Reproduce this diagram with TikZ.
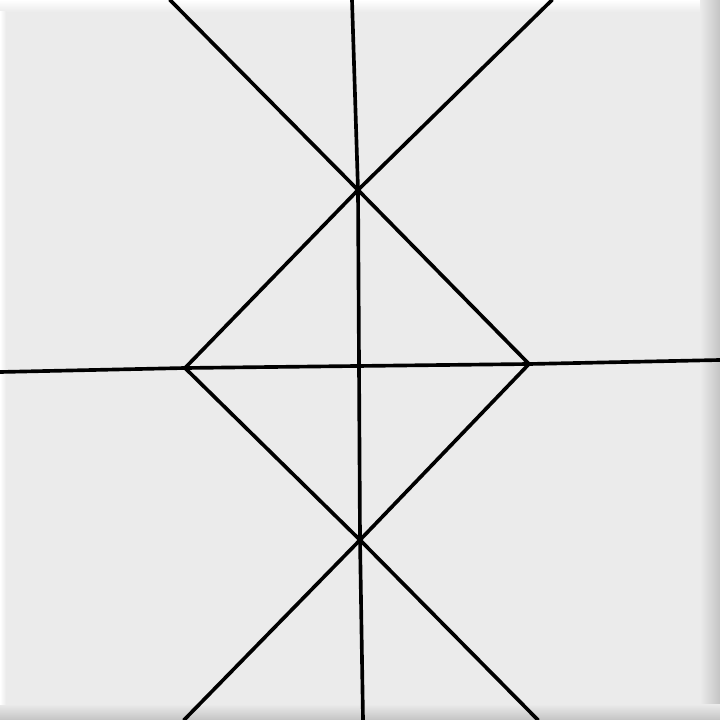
\documentclass[tikz,border=0pt]{standalone}
\usepackage{tikz}
\definecolor{tile}{HTML}{EBEBEB}
\definecolor{tileedge}{HTML}{C4C4C4}

\begin{document}
\begin{tikzpicture}[x=0.025cm,y=-0.025cm,line width=2.6pt,line cap=round,line join=round]
        % tile
        \fill[tile] (0,0) rectangle (720,720);
        \shade[top color=white,bottom color=tile] (0,0) rectangle (720,12);
        \shade[left color=tile,right color=tileedge] (700,0) rectangle (720,720);
        \shade[top color=tile,bottom color=tileedge] (0,704) rectangle (720,720);
        \shade[left color=white,right color=tile] (0,12) rectangle (6,704);
        \useasboundingbox (0,0) rectangle (720,720);

        \coordinate (t) at (358,190); \coordinate (b) at (360,540);
        \coordinate (l) at (185,368); \coordinate (r) at (529,364);

        \coordinate (tl) at (170,0); \coordinate (tr) at (552,0);
        \coordinate (bl) at (184,720); \coordinate (br) at (538,720);
        \coordinate (tm) at (352,0); \coordinate (bm) at (363,720);
        \coordinate (lm) at (0,372); \coordinate (rm) at (720,360);

        \draw (tm) -- (t) -- (b) -- (bm);
        \draw (lm) -- (l) -- (r) -- (rm);
        \draw (tl) -- (t) -- (r) -- (b) -- (bl);
        \draw (tr) -- (t) -- (l) -- (b) -- (br);
      \end{tikzpicture}
\end{document}
